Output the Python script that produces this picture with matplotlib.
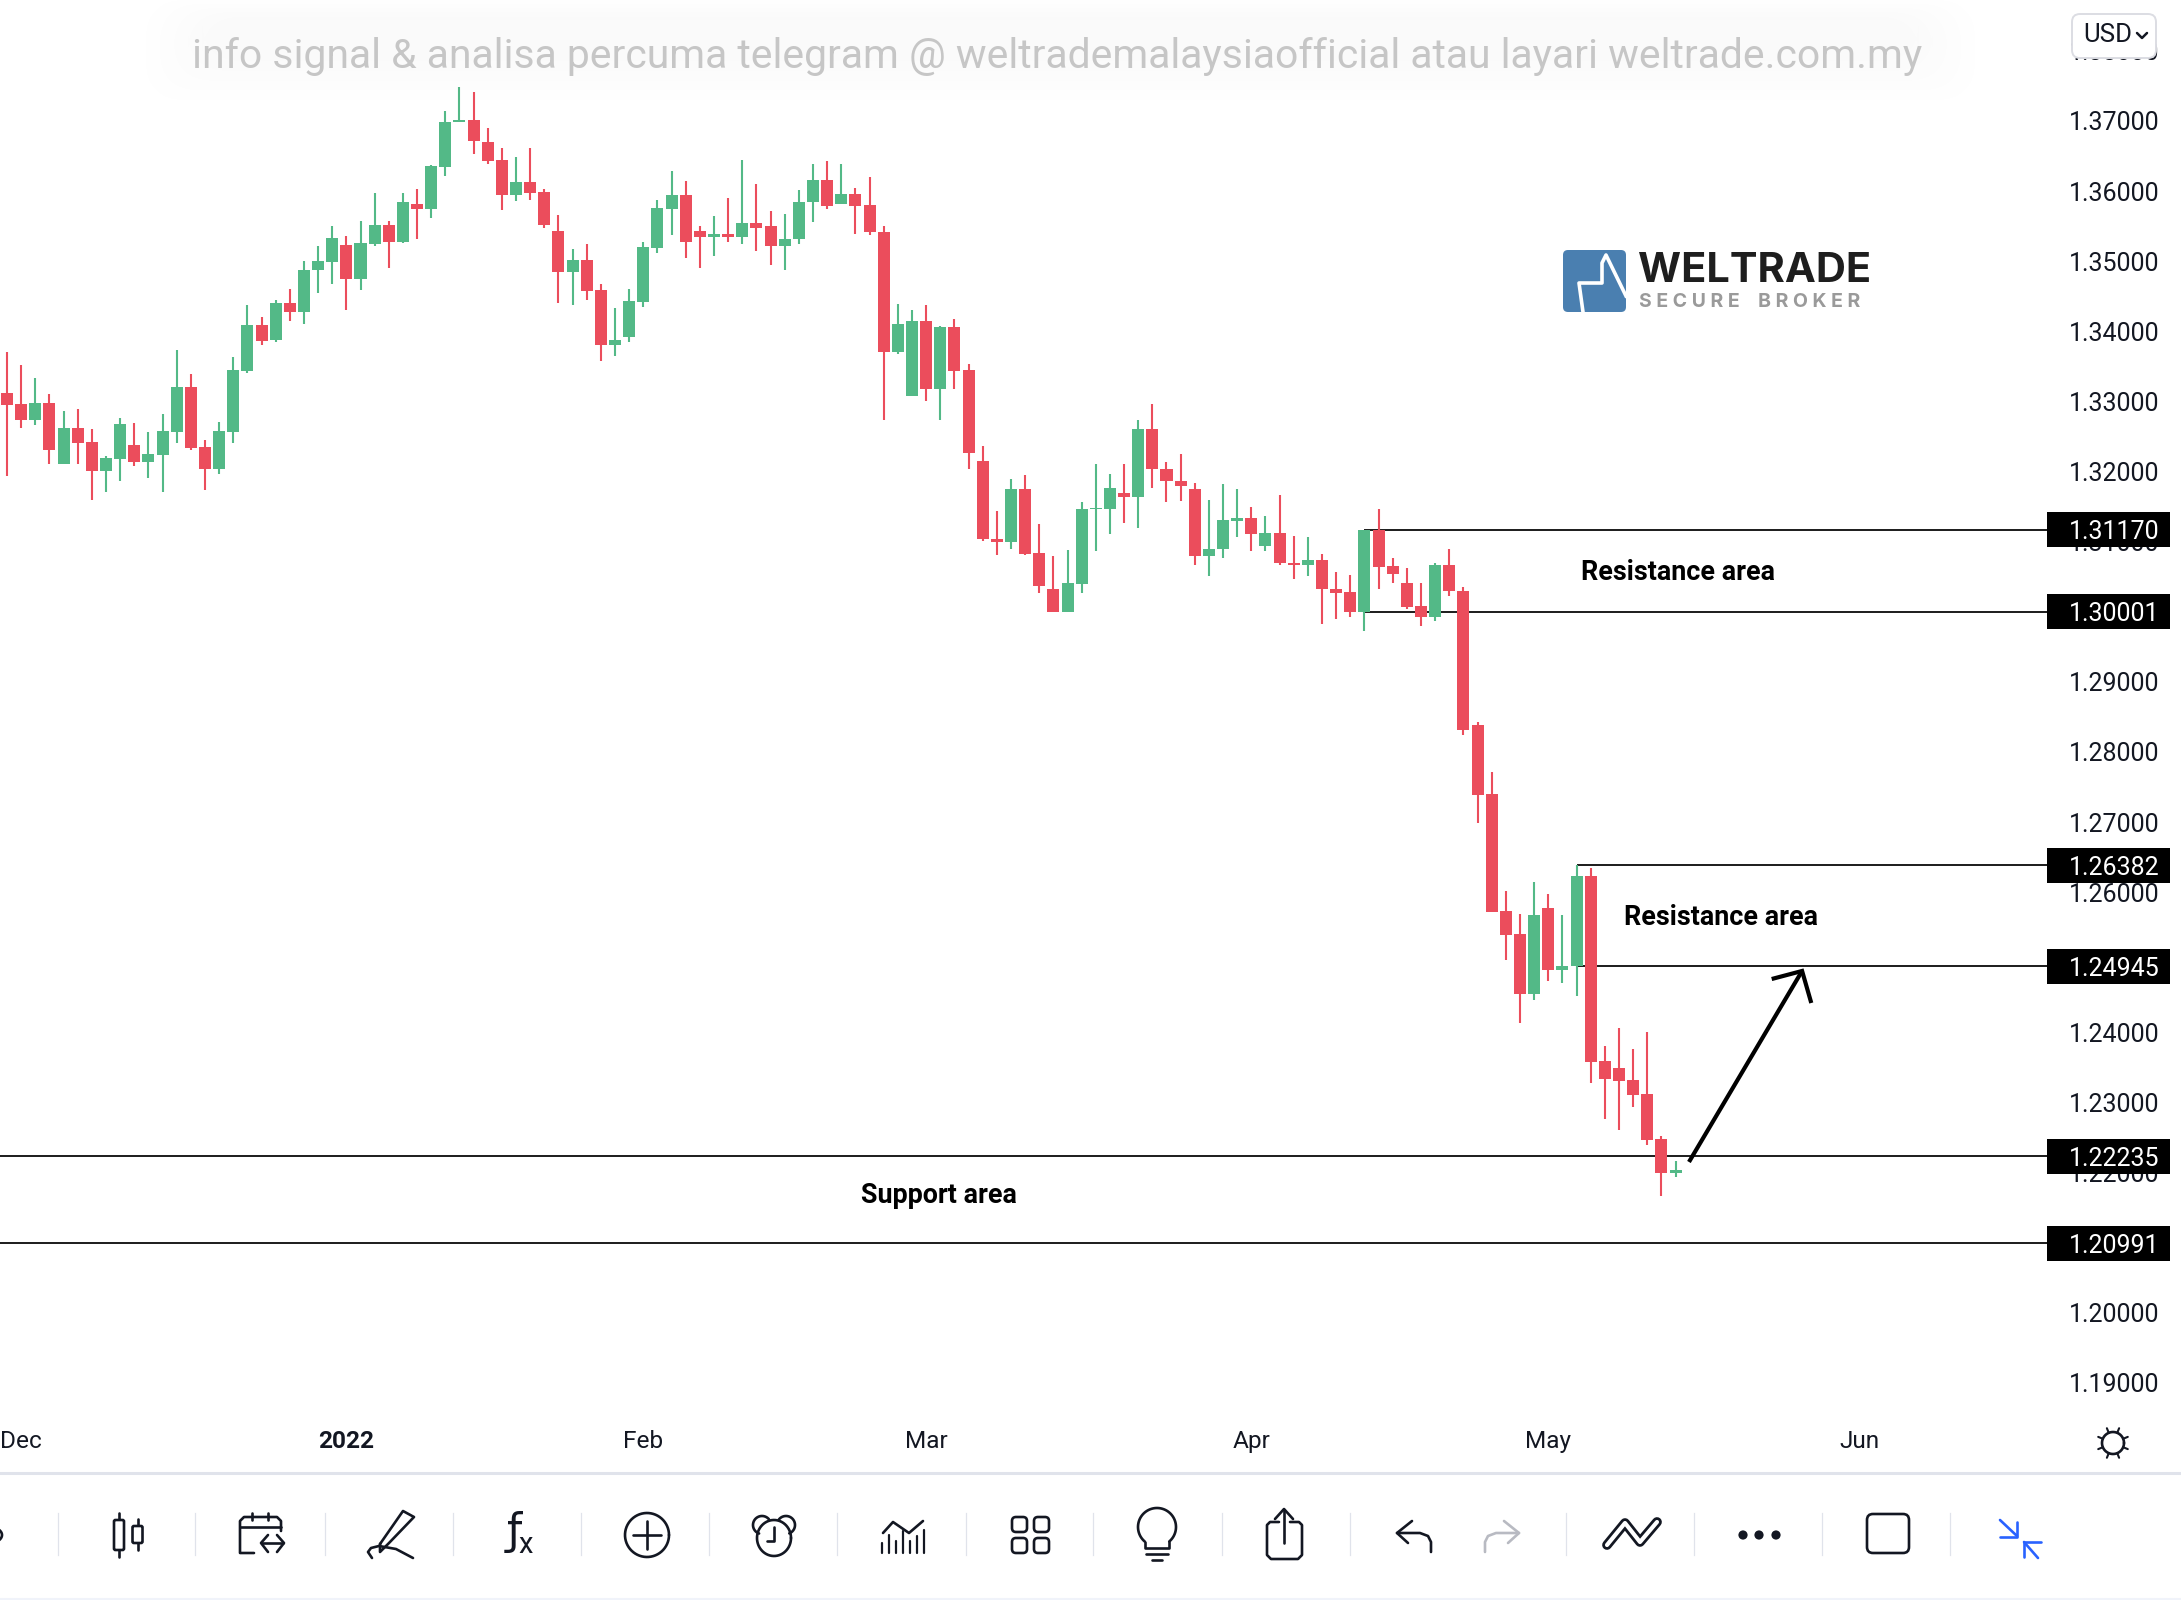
import numpy as np
import matplotlib
matplotlib.use("Agg")
import matplotlib.pyplot as plt
from matplotlib.patches import FancyBboxPatch, Rectangle, Circle
from matplotlib.transforms import blended_transform_factory

plt.rcParams['font.family'] = ['Roboto', 'DejaVu Sans']

# Daily candles: high, body top, body bottom, low
highs = [1.3370,1.3352,1.3333,1.3310,1.3286,1.3289,1.3261,1.3222,1.3276,1.3269,1.3256,1.3282,1.3374,1.3339,1.3245,1.3270,1.3363,1.3437,1.3420,1.3444,
         1.3461,1.3500,1.3521,1.3550,1.3536,1.3557,1.3598,1.3558,1.3597,1.3603,1.3637,1.3714,1.3748,1.3742,1.3690,1.3661,1.3648,1.3661,1.3603,1.3566,
         1.3518,1.3524,1.3467,1.3433,1.3460,1.3528,1.3587,1.3628,1.3615,1.3550,1.3564,1.3590,1.3644,1.3610,1.3571,1.3567,1.3601,1.3638,1.3643,1.3638,
         1.3604,1.3620,1.3550,1.3439,1.3431,1.3437,1.3407,1.3417,1.3353,1.3237,1.3143,1.3189,1.3195,1.3125,1.3079,1.3088,1.3156,1.3210,1.3196,1.3210,
         1.3273,1.3297,1.3213,1.3225,1.3183,1.3159,1.3182,1.3175,1.3150,1.3136,1.3166,1.3108,1.3106,1.3082,1.3056,1.3053,1.3117,1.3146,1.3076,1.3063,
         1.3041,1.3070,1.3089,1.3035,1.2843,1.2772,1.2602,1.2569,1.2615,1.2597,1.2568,1.2638,1.2634,1.2381,1.2406,1.2376,1.2400,1.2252,1.2216]
body_top = [1.3312,1.3296,1.3298,1.3298,1.3262,1.3262,1.3242,1.3219,1.3268,1.3238,1.3225,1.3258,1.3321,1.3321,1.3235,1.3258,1.3345,1.3409,1.3409,1.3441,
            1.3440,1.3487,1.3500,1.3533,1.3523,1.3526,1.3552,1.3552,1.3584,1.3582,1.3636,1.3699,1.3702,1.3702,1.3670,1.3644,1.3613,1.3613,1.3599,1.3543,
            1.3502,1.3502,1.3459,1.3388,1.3443,1.3520,1.3576,1.3595,1.3595,1.3543,1.3539,1.3539,1.3555,1.3555,1.3550,1.3532,1.3585,1.3616,1.3616,1.3596,
            1.3596,1.3580,1.3542,1.3411,1.3415,1.3415,1.3406,1.3406,1.3345,1.3215,1.3104,1.3175,1.3175,1.3084,1.3032,1.3041,1.3147,1.3148,1.3176,1.3169,
            1.3261,1.3261,1.3204,1.3186,1.3175,1.3089,1.3131,1.3134,1.3134,1.3112,1.3112,1.3069,1.3074,1.3074,1.3032,1.3028,1.3117,1.3117,1.3065,1.3041,
            1.3008,1.3067,1.3067,1.3030,1.2839,1.2740,1.2573,1.2540,1.2568,1.2578,1.2494,1.2623,1.2623,1.2359,1.2349,1.2332,1.2312,1.2248,1.2204]
body_bot = [1.3295,1.3274,1.3274,1.3231,1.3211,1.3241,1.3201,1.3201,1.3218,1.3213,1.3213,1.3224,1.3257,1.3233,1.3204,1.3204,1.3257,1.3344,1.3386,1.3388,
            1.3427,1.3427,1.3487,1.3499,1.3475,1.3475,1.3525,1.3528,1.3527,1.3575,1.3575,1.3635,1.3698,1.3671,1.3643,1.3594,1.3594,1.3598,1.3552,1.3485,
            1.3485,1.3458,1.3381,1.3381,1.3392,1.3442,1.3519,1.3575,1.3527,1.3535,1.3535,1.3534,1.3534,1.3547,1.3522,1.3522,1.3531,1.3584,1.3579,1.3582,
            1.3579,1.3541,1.3371,1.3371,1.3308,1.3318,1.3318,1.3344,1.3226,1.3103,1.3099,1.3099,1.3083,1.3036,1.3000,1.3000,1.3040,1.3146,1.3147,1.3163,
            1.3163,1.3203,1.3186,1.3180,1.3080,1.3080,1.3089,1.3130,1.3111,1.3094,1.3069,1.3066,1.3066,1.3033,1.3027,1.2999,1.2999,1.3064,1.3054,1.3007,
            1.2993,1.2993,1.3029,1.2831,1.2738,1.2572,1.2539,1.2454,1.2454,1.2489,1.2489,1.2494,1.2358,1.2333,1.2331,1.2311,1.2247,1.2199,1.2200]
lows = [1.3194,1.32625,1.3267,1.3210,1.3210,1.3210,1.3160,1.3171,1.3187,1.3208,1.3191,1.3171,1.3241,1.3230,1.3174,1.3197,1.3240,1.3340,1.3381,1.3385,
        1.3415,1.3410,1.3455,1.3467,1.3431,1.3459,1.3522,1.3491,1.3526,1.3532,1.3562,1.3622,1.3698,1.3653,1.3638,1.3573,1.3586,1.3588,1.3547,1.3441,
        1.3437,1.3445,1.3358,1.3365,1.3385,1.3435,1.3512,1.3538,1.3505,1.3491,1.3508,1.3528,1.3524,1.3514,1.3495,1.3487,1.3525,1.3556,1.3574,1.3582,
        1.3539,1.3537,1.3273,1.3367,1.3308,1.3300,1.3273,1.3318,1.3203,1.3101,1.3081,1.3089,1.3081,1.3027,1.3000,1.3000,1.3026,1.3087,1.3111,1.3127,
        1.3120,1.3176,1.3157,1.3158,1.3066,1.3051,1.3077,1.3106,1.3086,1.3086,1.3067,1.3046,1.3051,1.2982,1.2989,1.2993,1.2972,1.3033,1.3041,1.3004,
        1.2980,1.2987,1.3023,1.2824,1.2698,1.2572,1.2503,1.2413,1.2446,1.2473,1.2471,1.2452,1.2327,1.2277,1.2261,1.2293,1.2239,1.2166,1.2194]
# session numbers of the bullish (green) candles
up_index = [2,4,7,8,10,11,12,15,16,17,19,21,22,23,25,26,28,30,31,32,
            36,40,43,44,45,46,47,50,52,55,56,57,59,63,64,66,71,75,76,77,
            78,80,85,86,87,89,92,96,101,108,110,111,118]

price_ticks = [round(1.19 + 0.01 * i, 2) for i in range(20)]
date_tick_pos = [1, 24, 45, 65, 88, 109, 131]
date_tick_lab = ["Dec", "2022", "Feb", "Mar", "Apr", "May", "Jun"]

level_prices = [1.31170, 1.30001, 1.26382, 1.24945, 1.22235, 1.20991]
level_starts = [96, 96, 111, 111, None, None]

area_labels = ["Resistance area", "Resistance area", "Support area"]
area_x = [118.2, 121.2, 65.9]
area_y = [1.30556, 1.25635, 1.21669]

arrow_shaft_x = [118.95, 126.95]
arrow_shaft_y = [1.2215, 1.24875]
arrow_head_x = [124.8, 126.95, 127.6]
arrow_head_y = [1.2476, 1.24875, 1.24418]

RED = "#EB4D5C"
GREEN = "#53B987"
INK = "#131722"

W, H = 2181, 1600
fig = plt.figure(figsize=(W / 100, H / 100), dpi=100, facecolor="white")
AX_R, AX_B = 2047, 1415
ax = fig.add_axes([0, 1 - AX_B / H, AX_R / W, AX_B / H])
ax.set_xlim(-0.495, 144.27)
ax.set_ylim(1.37 - (AX_B - 121) / 7010, 1.37 + 121 / 7010)
for s in ax.spines.values():
    s.set_visible(False)

x = np.arange(len(highs))
hi, lo = np.array(highs), np.array(lows)
top, bot = np.array(body_top), np.array(body_bot)
is_up = np.isin(x, up_index)
cols = np.where(is_up, GREEN, RED)

for p, st in zip(level_prices, level_starts):
    ax.hlines(p, -0.495 if st is None else st, 144.27, color="black", lw=1.25, zorder=1.5)

ax.vlines(x, lo, hi, colors=cols, lw=1.5, zorder=3)
ax.bar(x, top - bot, bottom=bot, width=0.85, color=cols, linewidth=0, zorder=3.5)

ax.yaxis.tick_right()
ax.set_yticks(price_ticks)
ax.set_yticklabels([f"{t:.5f}" for t in price_ticks], fontsize=18, color=INK)
ax.tick_params(axis="y", length=0, pad=16)
ax.set_xticks(date_tick_pos)
ax.set_xticklabels(date_tick_lab, fontsize=17.6, color=INK)
ax.get_xticklabels()[1].set_fontweight("bold")
ax.tick_params(axis="x", length=0, pad=11)

trans = blended_transform_factory(ax.transAxes, ax.transData)
box_h = 35 / 7010
for p in level_prices:
    ax.add_patch(Rectangle((1.0, p - box_h / 2), 123 / AX_R, box_h, transform=trans,
                           facecolor="black", edgecolor="none", clip_on=False, zorder=6))
    ax.text(1 + 22 / AX_R, p, f"{p:.5f}", transform=trans, color="white", fontsize=18,
            va="center_baseline", ha="left", clip_on=False, zorder=7)

for t, ax_x, ax_y in zip(area_labels, area_x, area_y):
    ax.text(ax_x, ax_y, t, fontsize=19.4, fontweight="bold", color="black",
            ha="center", va="center", zorder=8)

ax.plot(arrow_shaft_x, arrow_shaft_y, color="black", lw=3.0, solid_capstyle="butt", zorder=8)
ax.plot(arrow_head_x, arrow_head_y, color="black", lw=3.0, solid_capstyle="butt",
        solid_joinstyle="miter", zorder=8)

# overlay in pixel coordinates for page furniture
ov = fig.add_axes([0, 0, 1, 1], facecolor="none")
ov.set_xlim(0, W)
ov.set_ylim(H, 0)
ov.axis("off")


def L(xs, ys, c=INK, lw=1.9, z=5):
    ov.plot(xs, ys, color=c, lw=lw, solid_capstyle="round", solid_joinstyle="round", zorder=z)


def RR(x0, y0, w, h, r, fc="none", ec=INK, lw=1.9, z=5):
    ov.add_patch(FancyBboxPatch((x0 + r, y0 + r), w - 2 * r, h - 2 * r, boxstyle=f"round,pad={r}",
                                fc=fc, ec=ec, lw=lw, zorder=z))


def arc(cx, cy, rx, ry, t0, t1, **k):
    t = np.linspace(t0, t1, 60)
    L(cx + rx * np.cos(t), cy + ry * np.sin(t), **k)


# watermark with soft halo
for pad in [0, 14, 28, 42, 56]:
    RR(146 + pad, 0 + pad * 0.3, 1829 - 2 * pad, 100 - pad, 40, fc=(0.5, 0.5, 0.5, 0.006), ec="none", lw=0, z=1)
ov.text(1057, 57, "info signal & analisa percuma telegram @ weltrademalaysiaofficial atau layari weltrade.com.my",
        fontsize=29.4, color="#c6c6c6", ha="center", va="center", zorder=2)

# currency drop-down
RR(2072, 14, 84, 44, 8, fc="white", ec="#dcdde3", lw=1.4, z=6)
ov.text(2083, 35, "USD", fontsize=18.6, color=INK, ha="left", va="center", zorder=7)
L([2137, 2142, 2147], [33, 38, 33], lw=1.8, z=7)

# logo
RR(1563, 250, 63, 62, 5, fc="#4A7FB0", ec="none", lw=0, z=3)
ov.plot([1583, 1579, 1602, 1602, 1606, 1626], [312, 283, 283, 263, 255, 296], color="white", lw=2.6, zorder=4)
ov.text(1638, 271, "WELTRADE", fontsize=29.9, fontweight="bold", family="Inter", color="#1e1e1e",
        ha="left", va="center", zorder=4)
ov.text(1639, 302, "S E C U R E    B R O K E R", fontsize=14, fontweight="bold", family="Inter", color="#9a9a9a",
        ha="left", va="center", zorder=4)

# separators
ov.plot([0, W], [1472.5, 1472.5], color="#e0e3eb", lw=2.2, zorder=2)
ov.plot([0, W], [1598.5, 1598.5], color="#f0f3fa", lw=2.2, zorder=2)
for sx in [58, 195, 325, 453, 581, 709, 837, 966, 1093, 1222, 1350, 1566, 1694, 1822, 1950]:
    ov.plot([sx, sx], [1513, 1555], color="#e0e3eb", lw=0.9, zorder=2)

# sun
arc(2113, 1443, 11, 11, 0, 2 * np.pi)
for a in np.arange(8) * np.pi / 4 + np.pi / 8:
    L([2113 + 11 * np.cos(a), 2113 + 16 * np.cos(a)], [1443 + 11 * np.sin(a), 1443 + 16 * np.sin(a)], lw=1.5)

# toolbar icons
arc(-14, 1535, 16, 9, -0.9, 0.9)
L([119, 119], [1513, 1557]); RR(114, 1520, 10, 30, 1.5, fc="white")
L([137.5, 137.5], [1519, 1550]); RR(132.5, 1526, 10, 17, 1.5, fc="white")
L([254, 240, 240, 244, 277, 281, 281], [1553, 1553, 1521, 1517, 1517, 1521, 1531])
L([240, 281], [1527, 1527]); L([252, 252], [1513, 1520]); L([268, 268], [1513, 1520])
L([262, 283], [1543, 1543]); L([268, 261, 268], [1535, 1543, 1552]); L([277, 284, 277], [1535, 1543, 1552])
L([380, 403, 414, 389, 380, 380], [1544, 1511, 1517, 1543, 1552, 1544])
L([372, 368, 371, 379, 396, 413], [1558, 1552, 1548, 1546, 1549, 1558])
ov.text(514, 1532, "ƒ", fontsize=31, family="DejaVu Sans", color=INK, ha="center", va="center", zorder=5)
ov.text(526, 1545, "x", fontsize=21, color=INK, ha="center", va="center", zorder=5)
arc(647, 1535, 22, 22, 0, 2 * np.pi)
L([633, 661], [1535, 1535]); L([647, 647], [1521, 1549])
arc(774, 1538, 17, 18, 0, 2 * np.pi)
L([774, 774, 767], [1527, 1541, 1541])
arc(762, 1525, 9, 9, 1.9, 5.6); arc(786, 1525, 9, 9, -2.5, 1.2)
for bx, bt in zip(np.linspace(882, 924, 7), [1543, 1535, 1541, 1531, 1541, 1536, 1530]):
    L([bx, bx], [bt, 1553], lw=1.6)
L([883, 893, 909, 923], [1533, 1522, 1533, 1521])
for gx in [1012, 1034]:
    for gy in [1517, 1538]:
        RR(gx, gy, 15, 15, 4)
arc(1157, 1527, 19, 19, np.pi / 2 + 0.7, 2.5 * np.pi - 0.7)
L([1145, 1145, 1169, 1169], [1542, 1548, 1548, 1542])
L([1146, 1168], [1554, 1554]); L([1152, 1162], [1560, 1560])
L([1279, 1270, 1267, 1267, 1271, 1298, 1302, 1302, 1299, 1290], [1522, 1522, 1525, 1555, 1559, 1559, 1555, 1525, 1522, 1522])
L([1284, 1284], [1543, 1510]); L([1275, 1284, 1293], [1519, 1509, 1519])
for c, f in [(INK, lambda v: v), ("#b8bac2", lambda v: 2916 - v)]:
    L([f(1412), f(1397), f(1408)], [1521, 1533, 1543], c=c)
    L([f(1397), f(1420), f(1428), f(1431), f(1431)], [1533, 1533, 1536, 1542, 1552], c=c)
L([1607, 1625, 1640, 1657], [1545, 1523, 1542, 1522], lw=7)
L([1607, 1625, 1640, 1657], [1545, 1523, 1542, 1522], c="white", lw=3, z=6)
for dx in [1743, 1759, 1776]:
    ov.add_patch(Circle((dx, 1535), 4.6, fc=INK, ec="none", zorder=5))
RR(1867, 1514, 42, 39, 6)
BLUE = "#2962FF"
L([2000, 2017], [1520, 1536], c=BLUE); L([2000, 2017, 2017], [1537, 1537, 1522], c=BLUE)
L([2024, 2038], [1542, 1558], c=BLUE); L([2041, 2024, 2024], [1542, 1542, 1557], c=BLUE)

fig.savefig("out.png", dpi=100, facecolor="white")
